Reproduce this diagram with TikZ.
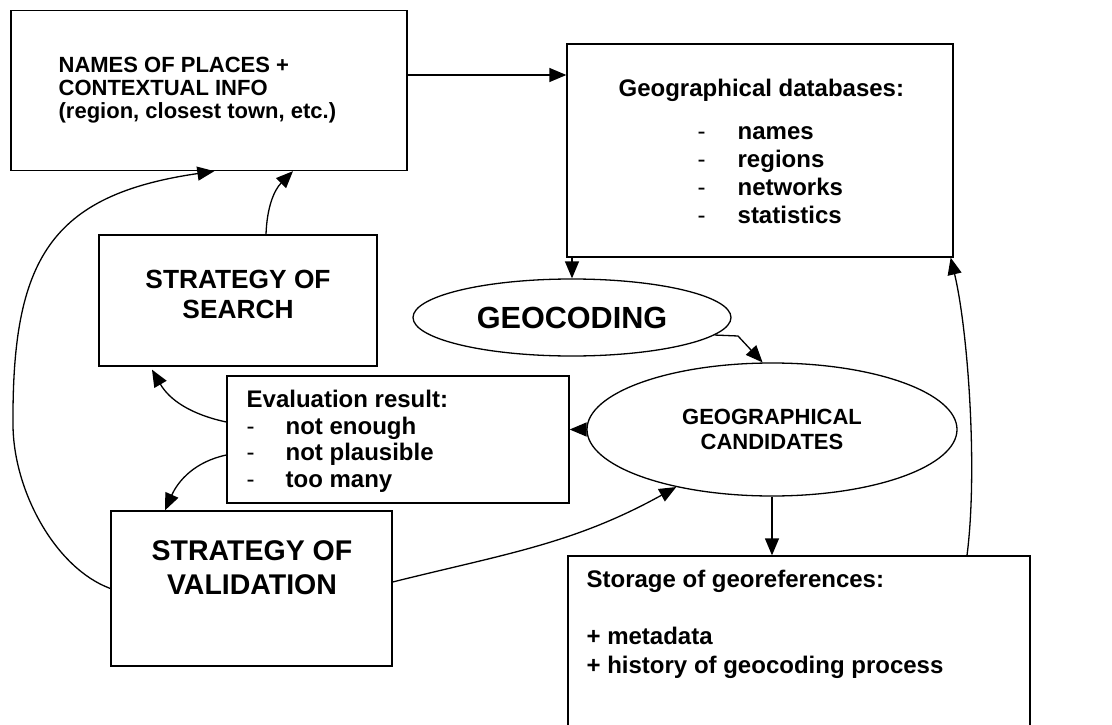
\documentclass[tikz,border=0pt]{standalone}
\usepackage{fontspec}
\setmainfont{Liberation Sans}
\usetikzlibrary{shapes.geometric,arrows.meta}
\newcommand\itemdash[1]{\makebox[#1][l]{\mdseries -}}

\begin{document}
\begin{tikzpicture}[x=1pt,y=1pt,line width=1.3pt,
  box/.style={draw,rectangle},
  oval/.style={draw,ellipse,align=center},
  arr/.style={-{Triangle[length=17pt,width=14pt]}},
  txt/.style={align=left}]
\tikzstyle{every node}+=[inner sep=0pt]
\useasboundingbox (0,0) rectangle (1112,-725);
\clip (0,0) rectangle (1112,-725);
\node [box,minimum width=396pt,minimum height=160pt] (names) at (209,-90.5) {};
\node [txt,anchor=north west,font=\bfseries\fontsize{22}{23.3}\selectfont] (namestxt) at (58,-56) {NAMES OF PLACES +\\CONTEXTUAL INFO\\(region, closest town, etc.)};
\node [box,minimum width=386pt,minimum height=213pt] (geodb) at (760,-150.5) {};
\node [anchor=base west,font=\bfseries\fontsize{24}{28}\selectfont] (geotitle) at (618,-96) {Geographical databases:};
\node [txt,anchor=north west,font=\bfseries\fontsize{24}{28.3}\selectfont] (geolist) at (697,-125.5) {\itemdash{40pt}names\\\itemdash{40pt}regions\\\itemdash{40pt}networks\\\itemdash{40pt}statistics};
\node [oval,minimum width=318pt,minimum height=77pt,font=\bfseries\fontsize{30.6}{36}\selectfont] (geocoding) at (572,-317.5) {GEOCODING};
\node [oval,minimum width=370pt,minimum height=133pt,font=\bfseries\fontsize{22}{25}\selectfont] (cand) at (772,-429.5) {GEOGRAPHICAL\\CANDIDATES};
\node [box,minimum width=278pt,minimum height=131pt] (search) at (238,-300.5) {};
\node [anchor=north,align=center,font=\bfseries\fontsize{26.3}{30}\selectfont] (searchtxt) at (238,-269) {STRATEGY OF\\SEARCH};
\node [box,minimum width=342pt,minimum height=127pt] (eval) at (398,-439.5) {};
\node [txt,anchor=north west,font=\bfseries\fontsize{24}{26.5}\selectfont] (evaltxt) at (246,-389.8) {Evaluation result:\\\itemdash{39pt}not enough\\\itemdash{39pt}not plausible\\\itemdash{39pt}too many};
\node [box,minimum width=281pt,minimum height=155pt] (valid) at (251.5,-588.5) {};
\node [anchor=north,align=center,font=\bfseries\fontsize{28.5}{34}\selectfont] (validtxt) at (252,-540) {STRATEGY OF\\VALIDATION};
\node [box,minimum width=462pt,minimum height=204pt] (storage) at (799,-658) {};
\node [txt,anchor=north west,font=\bfseries\fontsize{24}{28.5}\selectfont] (storagetxt) at (586,-569.5) {Storage of georeferences:\\\mbox{}\\+ metadata\\+ history of geocoding process};
\coordinate (ab) at ([yshift=15.5pt]names.east);
\draw [arr] (ab) -- (ab -| geodb.west);
\draw [arr] (geocoding.north |- geodb.south) -- (geocoding.north);
\draw [arr] (geocoding.-7) -- (738,-336) -- (cand.98);
\draw [arr] (cand.west) -- (cand.west -| eval.east);
\draw [arr] (cand.south) -- (cand.south |- storage.north);
\draw [arr] ([xshift=168pt]storage.north) .. controls (978,-470) and (968,-330) .. ([xshift=-3pt]geodb.south east);
\draw [arr] ([xshift=28pt]search.north) to[out=88,in=225] ([xshift=84pt]names.south);
\draw [arr] ([yshift=17.5pt]eval.west) to[out=168,in=300] ([xshift=-86pt,yshift=-3pt]search.south);
\draw [arr] ([yshift=-15.5pt]eval.west) to[out=192,in=66] ([xshift=-86.5pt]valid.north);
\draw [arr] ([yshift=6.5pt]valid.east) to[out=14,in=209] (cand.211);
\draw [arr] (valid.west) .. controls (55,-568) and (13,-490) .. (13,-424) .. controls (12,-260) and (50,-195) .. ([xshift=204pt]names.south west);
\end{tikzpicture}
\end{document}
